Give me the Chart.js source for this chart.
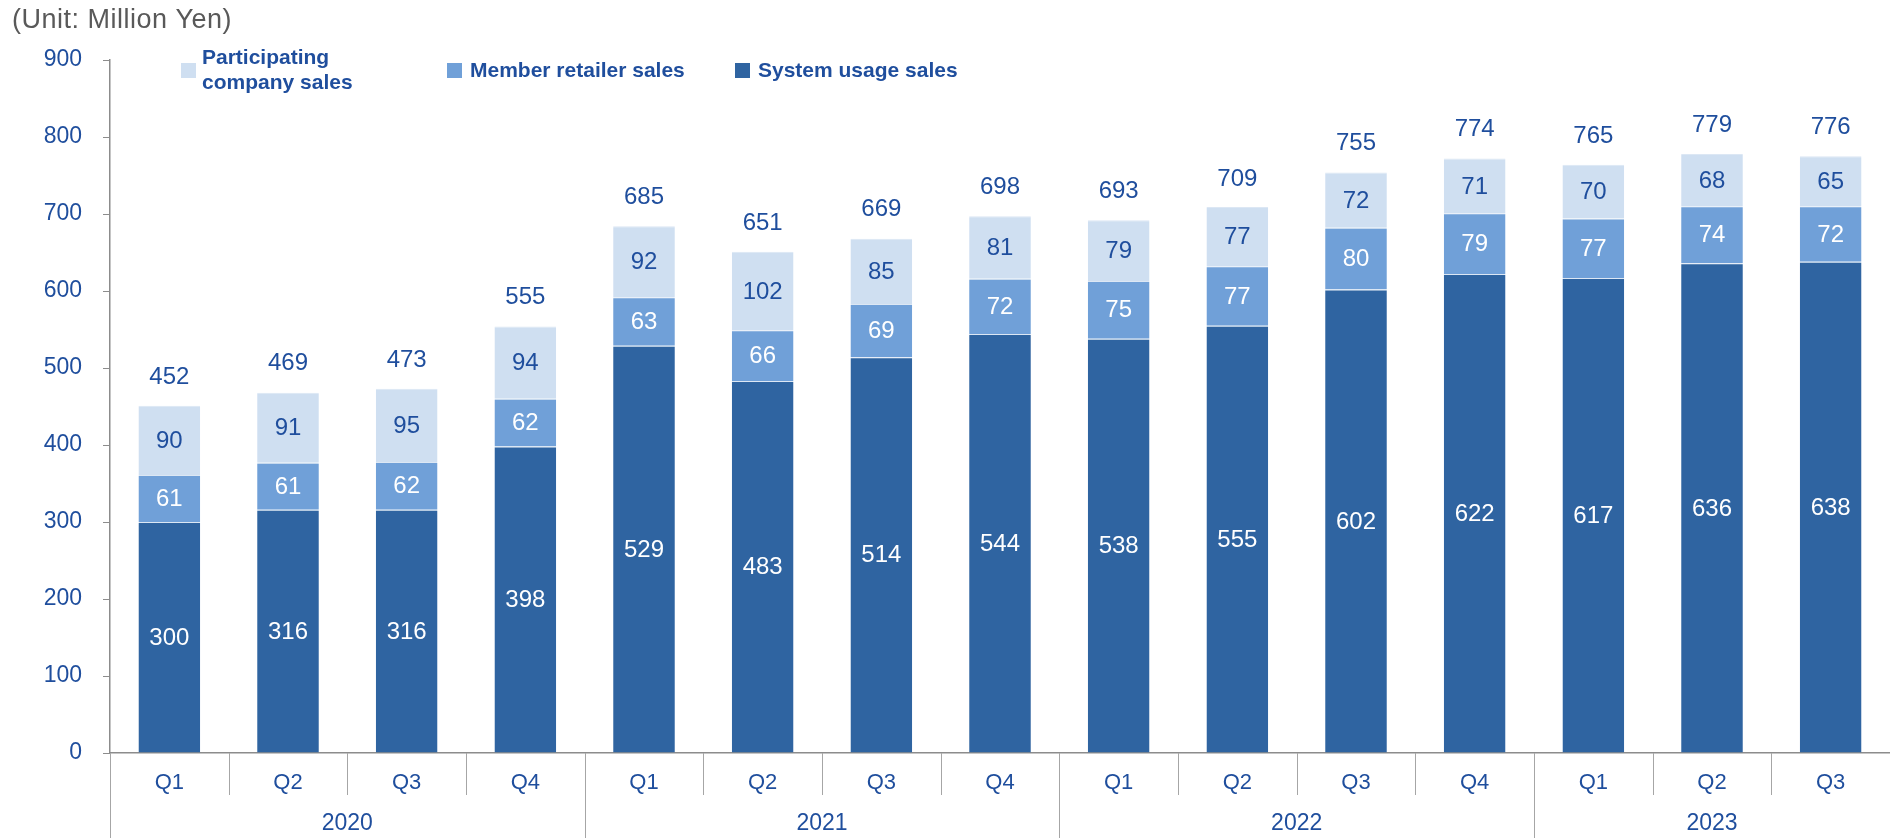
<!DOCTYPE html>
<html>
<head>
<meta charset="utf-8">
<script src="https://cdn.jsdelivr.net/npm/chart.js@4"></script>
<style>
  html, body { margin: 0; padding: 0; background: #fff; }
  #wrap { width: 1890px; height: 838px; }
</style>
</head>
<body>
<div id="wrap"><canvas id="myChart" width="1890" height="838"></canvas></div>
<script>
// quarterly sales, million yen
const quarters = ['Q1', 'Q2', 'Q3', 'Q4', 'Q1', 'Q2', 'Q3', 'Q4', 'Q1', 'Q2', 'Q3', 'Q4', 'Q1', 'Q2', 'Q3'];
const years = ['2020', '2021', '2022', '2023'];
const quartersPerYear = [4, 4, 4, 3];

const systemUsage = [300, 316, 316, 398, 529, 483, 514, 544, 538, 555, 602, 622, 617, 636, 638];
const memberRetailer = [61, 61, 62, 62, 63, 66, 69, 72, 75, 77, 80, 79, 77, 74, 72];
const participating = [90, 91, 95, 94, 92, 102, 85, 81, 79, 77, 72, 71, 70, 68, 65];
const totals = [452, 469, 473, 555, 685, 651, 669, 698, 693, 709, 755, 774, 765, 779, 776];

const yTicks = [0, 100, 200, 300, 400, 500, 600, 700, 800, 900];

const BLUE_TEXT = '#1f4e9d';
const AXIS = '#8c8c8c';
const FONT = '"Liberation Sans", Arial, sans-serif';

// segment labels, totals, title, legend and the year row under the axis
const decorations = {
  id: 'decorations',
  afterDatasetsDraw(chart) {
    const ctx = chart.ctx;
    const x = chart.scales.x;
    const y = chart.scales.y;
    ctx.save();
    ctx.textAlign = 'center';
    ctx.textBaseline = 'middle';
    ctx.font = '24px ' + FONT;

    chart.data.datasets.forEach((ds, di) => {
      const meta = chart.getDatasetMeta(di);
      meta.data.forEach((bar, i) => {
        const mid = (bar.y + bar.base) / 2;
        ctx.fillStyle = ds.labelColor;
        ctx.fillText(String(ds.data[i]), bar.x, mid + 1);
      });
    });

    // totals above each stack
    ctx.fillStyle = BLUE_TEXT;
    totals.forEach((t, i) => {
      ctx.fillText(String(t), x.getPixelForValue(i), y.getPixelForValue(t) - 28);
    });
    ctx.restore();
  },
  afterDraw(chart) {
    const ctx = chart.ctx;
    const x = chart.scales.x;
    const area = chart.chartArea;
    const step = x.getPixelForValue(1) - x.getPixelForValue(0);
    ctx.save();

    // title
    ctx.fillStyle = '#595959';
    ctx.font = '27px ' + FONT;
    ctx.letterSpacing = '0.5px';
    ctx.textAlign = 'left';
    ctx.textBaseline = 'middle';
    ctx.fillText('(Unit: Million Yen)', 12, 21);
    ctx.letterSpacing = '0px';

    // quarter and year separators below the axis
    ctx.strokeStyle = '#a6a6a6';
    ctx.lineWidth = 1;
    let yearStart = [0];
    quartersPerYear.reduce((acc, n) => { yearStart.push(acc + n); return acc + n; }, 0);
    for (let i = 0; i < quarters.length; i++) {
      const px = Math.round(x.getPixelForValue(0) - step / 2 + i * step) + 0.5;
      const isYear = yearStart.includes(i);
      ctx.beginPath();
      ctx.moveTo(px, area.bottom);
      ctx.lineTo(px, isYear ? 838 : 795);
      ctx.stroke();
    }

    // year labels
    ctx.fillStyle = BLUE_TEXT;
    ctx.font = '23px ' + FONT;
    ctx.textAlign = 'center';
    years.forEach((yr, k) => {
      const a = x.getPixelForValue(yearStart[k]) - step / 2;
      const b = x.getPixelForValue(yearStart[k + 1] - 1) + step / 2;
      ctx.fillText(yr, (a + b) / 2, 824);
    });

    // legend
    const legendPos = [
      { sx: 181, sy: 63, tx: 202, ty: 58 },
      { sx: 447, sy: 63, tx: 470, ty: 71 },
      { sx: 735, sy: 63, tx: 758, ty: 71 }
    ];
    const order = [2, 1, 0];
    ctx.font = 'bold 21px ' + FONT;
    ctx.textAlign = 'left';
    order.forEach((di, k) => {
      const ds = chart.data.datasets[di];
      const p = legendPos[k];
      ctx.fillStyle = ds.backgroundColor;
      ctx.fillRect(p.sx, p.sy, 15, 15);
      ctx.fillStyle = BLUE_TEXT;
      ds.label.split('\n').forEach((line, li) => {
        ctx.fillText(line, p.tx, p.ty + li * 25);
      });
    });
    ctx.restore();
  }
};

const ctx = document.getElementById('myChart').getContext('2d');

let myChart = new Chart(ctx, {
  type: 'bar',
  data: {
    labels: quarters,
    datasets: [{
      label: 'System usage sales',
      data: systemUsage,
      backgroundColor: '#2f64a1',
      labelColor: '#ffffff'
    }, {
      label: 'Member retailer sales',
      data: memberRetailer,
      backgroundColor: '#70a0d8',
      labelColor: '#ffffff'
    }, {
      label: 'Participating\ncompany sales',
      data: participating,
      backgroundColor: '#cfdff1',
      labelColor: BLUE_TEXT
    }]
  },
  options: {
    responsive: false,
    animation: false,
    layout: { padding: { top: 60, right: 0, bottom: 0, left: 0 } },
    datasets: {
      bar: {
        categoryPercentage: 0.52,
        barPercentage: 1,
        borderWidth: { top: 1, left: 0, right: 0, bottom: 0 },
        borderColor: '#dce7f4',
        borderSkipped: false
      }
    },
    plugins: {
      legend: { display: false },
      title: { display: false },
      tooltip: { enabled: false }
    },
    scales: {
      x: {
        stacked: true,
        offset: true,
        afterFit: (scale) => { scale.height = 85; },
        grid: { display: false, drawTicks: false },
        border: { display: true, color: AXIS, width: 1.5 },
        ticks: { color: BLUE_TEXT, font: { size: 22, family: FONT }, padding: 17, maxRotation: 0, autoSkip: false }
      },
      y: {
        stacked: true,
        min: 0,
        max: 900,
        afterFit: (scale) => { scale.width = 110; },
        afterBuildTicks: (scale) => { scale.ticks = yTicks.map(v => ({ value: v })); },
        grid: { drawOnChartArea: false, drawTicks: true, tickLength: 7, color: AXIS },
        border: { display: true, color: AXIS, width: 1.5 },
        ticks: { color: BLUE_TEXT, font: { size: 23, family: FONT }, padding: 21 }
      }
    }
  },
  plugins: [decorations]
});
</script>
</body>
</html>
